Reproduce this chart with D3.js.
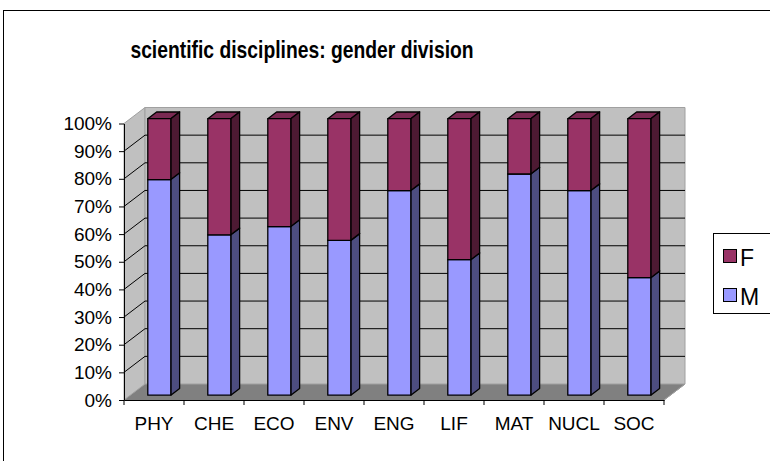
<!DOCTYPE html>
<html>
<head>
<meta charset="utf-8">
<script src="https://cdn.jsdelivr.net/npm/d3@7/dist/d3.min.js"></script>
<style>
  html, body { margin: 0; padding: 0; background: #fff; }
  svg { display: block; font-family: "Liberation Sans", Arial, sans-serif; }
</style>
</head>
<body>
<svg id="chart" width="770" height="461"></svg>
<script>
// Share of each discipline by gender (percent)
const categories = ["PHY", "CHE", "ECO", "ENV", "ENG", "LIF", "MAT", "NUCL", "SOC"];
const maleShare   = [78, 58, 61, 56, 74, 49, 80, 74, 42.5];
const femaleShare = [22, 42, 39, 44, 26, 51, 20, 26, 57.5];
const yTicks = [0, 10, 20, 30, 40, 50, 60, 70, 80, 90, 100];
const seriesNames = ["F", "M"];

const colors = {
  M: { front: "#9999FF", side: "#4D4D80", top: "#7A7ACC" },
  F: { front: "#993366", side: "#4D1A33", top: "#7A2952" }
};

const svg = d3.select("#chart");

// Chart frame
svg.append("rect")
  .attr("x", 3.5).attr("y", 10.5)
  .attr("width", 820).attr("height", 470)
  .attr("fill", "#fff").attr("stroke", "#000").attr("stroke-width", 1);

// Title (slightly condensed bold face)
svg.append("text")
  .attr("transform", "translate(302,58) scale(0.84,1)")
  .attr("text-anchor", "middle")
  .attr("font-size", "23px").attr("font-weight", "bold")
  .text("scientific disciplines: gender division");

// Front-plane scales plus a depth vector for the pseudo-3D walls
const x = d3.scaleBand().domain(categories).range([124, 664]);
const y = d3.scaleLinear().domain([0, 100]).range([400, 123.5]);
const DX = 21, DY = -16;
const proj = (px, v, z) => [px + z * DX, y(v) + z * DY];
const line = d3.line();

const x0 = x.range()[0], x1 = x.range()[1];

// Floor
svg.append("path")
  .attr("d", line([proj(x0, 0, 0), proj(x1, 0, 0), proj(x1, 0, 1), proj(x0, 0, 1)]) + "Z")
  .attr("fill", "#808080").attr("stroke", "#808080");

// Side wall
svg.append("path")
  .attr("d", line([proj(x0, 0, 0), proj(x0, 100, 0), proj(x0, 100, 1), proj(x0, 0, 1)]) + "Z")
  .attr("fill", "#C0C0C0").attr("stroke", "#A0A0A0");

// Back wall
svg.append("path")
  .attr("d", line([proj(x0, 0, 1), proj(x0, 100, 1), proj(x1, 100, 1), proj(x1, 0, 1)]) + "Z")
  .attr("fill", "#C0C0C0").attr("stroke", "#A0A0A0");

// Gridlines across side wall and back wall
svg.append("g").selectAll("path")
  .data(yTicks.filter(v => v > 0 && v < 100))
  .join("path")
  .attr("d", v => line([proj(x0, v, 0), proj(x0, v, 1), proj(x1, v, 1)]))
  .attr("fill", "none").attr("stroke", "#000").attr("stroke-width", 1);

// Floor right edge
svg.append("path")
  .attr("d", line([proj(x1, 0, 0), proj(x1, 0, 1)]))
  .attr("stroke", "#A0A0A0").attr("fill", "none");

// Stacked 3D columns
const zFront = 0.3, zBack = 0.72, halfW = 11.5;
const g = svg.append("g").attr("stroke", "#000").attr("stroke-width", 1.3).attr("stroke-linejoin", "round");
categories.forEach((cat, i) => {
  const c = x(cat) + x.bandwidth() / 2 - 1;
  const segs = [
    { key: "M", lo: 0, hi: maleShare[i] },
    { key: "F", lo: maleShare[i], hi: maleShare[i] + femaleShare[i] }
  ];
  segs.forEach(s => {
    const l = c - halfW, r = c + halfW;
    const col = colors[s.key];
    // top
    g.append("path")
      .attr("d", line([proj(l, s.hi, zFront), proj(r, s.hi, zFront), proj(r, s.hi, zBack), proj(l, s.hi, zBack)]) + "Z")
      .attr("fill", col.top);
    // right side
    g.append("path")
      .attr("d", line([proj(r, s.lo, zFront), proj(r, s.hi, zFront), proj(r, s.hi, zBack), proj(r, s.lo, zBack)]) + "Z")
      .attr("fill", col.side);
    // front
    g.append("path")
      .attr("d", line([proj(l, s.lo, zFront), proj(r, s.lo, zFront), proj(r, s.hi, zFront), proj(l, s.hi, zFront)]) + "Z")
      .attr("fill", col.front);
  });
});

// Y axis
const yAxis = d3.axisLeft(y).tickValues(yTicks).tickFormat(d => d + "%").tickSizeInner(5).tickSizeOuter(0).tickPadding(7);
const ya = svg.append("g").attr("transform", `translate(${x0},0)`).call(yAxis);
ya.selectAll("text").attr("font-size", "19px").attr("font-family", "Liberation Sans, Arial, sans-serif").attr("fill", "#000");
ya.selectAll("line, path").attr("stroke", "#000");

// X axis
const xAxis = d3.axisBottom(x).tickSize(0).tickPadding(17);
const xa = svg.append("g").attr("transform", `translate(0,${y(0)})`).call(xAxis);
xa.select(".domain").attr("stroke", "#000");
xa.selectAll("text").attr("font-size", "19px").attr("font-family", "Liberation Sans, Arial, sans-serif").attr("fill", "#000");
// category dividers below the axis
xa.selectAll(".divider")
  .data(d3.range(categories.length + 1))
  .join("line")
  .attr("class", "divider")
  .attr("x1", i => x0 + i * x.step()).attr("x2", i => x0 + i * x.step())
  .attr("y1", 0).attr("y2", 5)
  .attr("stroke", "#000");

// Legend
const leg = svg.append("g");
leg.append("rect")
  .attr("x", 713.5).attr("y", 233.5).attr("width", 100).attr("height", 80)
  .attr("fill", "#fff").attr("stroke", "#000");
seriesNames.forEach((name, i) => {
  const yy = 249 + i * 39;
  leg.append("rect")
    .attr("x", 723.5).attr("y", yy + 0.5).attr("width", 13).attr("height", 13)
    .attr("fill", colors[name].front).attr("stroke", "#000");
  leg.append("text")
    .attr("x", 740).attr("y", yy + 17)
    .attr("font-size", "23px")
    .text(name);
});
</script>
</body>
</html>
